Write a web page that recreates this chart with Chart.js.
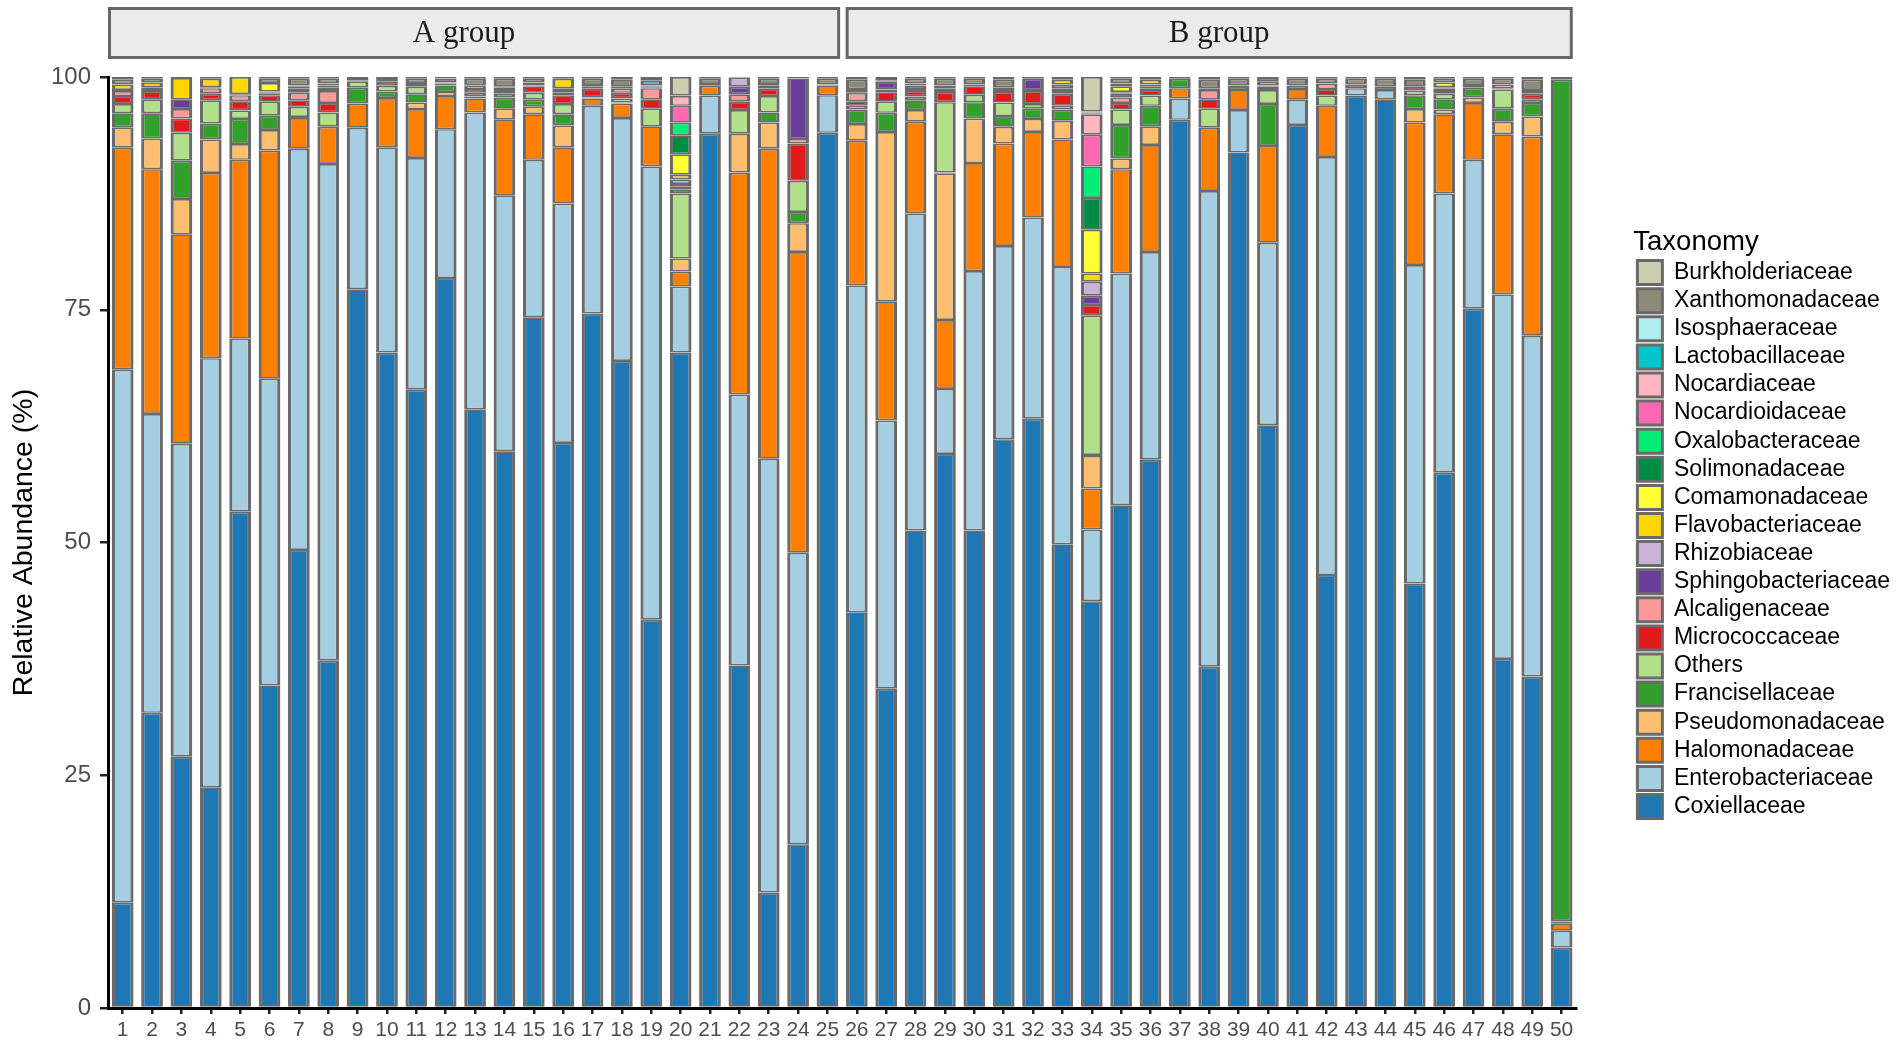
<!DOCTYPE html>
<html>
<head>
<meta charset="utf-8">
<script src="https://cdn.jsdelivr.net/npm/chart.js@4.4.1/dist/chart.umd.min.js"></script>
<style>
  html, body { margin: 0; padding: 0; background: #ffffff; }
  #wrap { width: 1902px; height: 1050px; position: relative; }
</style>
</head>
<body>
<div id="wrap"><canvas id="c"></canvas></div>
<script>
// ---------------- DATA ----------------
const sampleLabels = ['1','2','3','4','5','6','7','8','9','10','11','12','13','14','15','16','17','18','19','20','21','22','23','24','25',
                      '26','27','28','29','30','31','32','33','34','35','36','37','38','39','40','41','42','43','44','45','46','47','48','49','50'];
const groupNames = ['A group', 'B group'];
const groupSizes = [25, 25];
const yTicks = [0, 25, 50, 75, 100];

// taxa, bottom of the stack first
const taxa = ['Coxiellaceae','Enterobacteriaceae','Halomonadaceae','Pseudomonadaceae','Francisellaceae','Others',
  'Micrococcaceae','Alcaligenaceae','Sphingobacteriaceae','Rhizobiaceae','Flavobacteriaceae','Comamonadaceae',
  'Solimonadaceae','Oxalobacteraceae','Nocardioidaceae','Nocardiaceae','Lactobacillaceae','Isosphaeraceae',
  'Xanthomonadaceae','Burkholderiaceae'];

const coxiellaceae = [11.3,31.7,27.0,23.7,53.3,34.65,49.2,37.3,77.2,70.4, 66.4,78.4,64.3,59.8,74.2,60.7,74.6,69.5,41.7,70.4,
  93.9,36.8,12.4,17.6,94.0,42.5,34.3,51.3,59.5,51.3, 61.1,63.3,49.8,43.7,54.0,58.9,95.4,36.65,91.9,62.6, 94.85,46.5,98.0,97.6,45.6,57.5,75.1,37.5,35.6,6.5];
const enterobacteriaceae = [57.3,32.1,33.6,46.1,18.6,32.95,43.1,53.35,17.35,22.05, 24.9,16.0,31.9,27.5,16.9,25.7,22.3,26.1,48.7,7.1,
  4.1,29.1,46.6,31.3,4.05,35.1,28.8,34.05,7.0,27.85, 20.75,21.6,29.8,7.7,24.9,22.3,2.3,51.1,4.55,19.6, 2.7,44.9,0.8,1.0,34.2,30.0,16.0,39.15,36.6,1.8];
const halomonadaceae = [23.8,26.3,22.5,19.9,19.2,24.5,3.3,4.0,2.6,5.3, 5.25,3.55,1.5,8.15,4.9,6.05,0.8,1.55,4.3,1.6,
  1.05,23.85,33.3,32.3,1.05,15.55,12.8,9.85,7.4,11.6, 11.0,9.2,13.7,4.4,11.2,11.5,1.1,6.8,2.15,10.4, 1.15,5.5,0.4,0,15.3,8.5,6.1,17.2,21.4,0.8];
const pseudomonadaceae = [2.2,3.3,3.8,3.6,1.7,2.2,0,0,0,0, 0.7,0.45,0,1.15,0.85,2.35,0,0,0,1.4,
  0,4.15,2.8,3.1,0,1.8,18.2,1.25,15.75,4.8, 1.8,1.4,2.0,3.5,1.15,2.0,0,0,0,0, 0,0,0,0,1.45,0.5,0.6,1.35,2.15,0.2];
const francisellaceae = [1.5,2.7,4.1,1.7,2.7,1.55,0.1,0,1.7,0.7, 0.9,0.7,0.2,1.2,0.7,1.2,0,0.1,0,0,
  0.1,0,1.1,1.2,0.1,1.55,2.05,1.05,0.1,1.75, 1.15,1.1,1.2,0.1,3.6,2.2,1.0,0,0.5,4.5, 0.4,0,0,0.4,1.5,1.1,1.05,1.4,1.45,90.4];
const others = [1.0,1.5,3.0,2.5,0.9,1.5,1.1,1.55,0.65,0.6, 0.8,0.2,0.4,0.4,0.75,1.1,0.1,0.45,1.9,7.0,
  0.1,2.55,1.75,3.35,0,0.4,1.2,0.4,7.55,0.8, 1.45,0.5,0.4,15.0,1.65,1.1,0,2.05,0,1.5, 0,1.1,0,0,0.5,0.6,0.3,2.05,0.4,0];
const micrococcaceae = [0.85,0.9,1.55,0.7,1.0,0.7,0.7,1.0,0.1,0.4, 0.2,0.1,0.4,0.3,0.7,0.95,0.95,0.6,1.0,0.4,
  0,0.9,0.8,4.0,0,0.5,1.0,0.6,1.1,0.9, 1.15,1.4,1.3,1.1,0.7,0.6,0,1.0,0,0.1, 0,0.7,0,0,0.4,0.2,0,0.1,0.6,0];
const alcaligenaceae = [0.55,0.2,1.0,0.6,0.65,0.2,0.8,1.3,0,0.1, 0.1,0,0.4,0.2,0.1,0.3,0.2,0.45,1.2,0.3,
  0,0.8,0.3,0.5,0,0.9,0.3,0.2,0.3,0.2, 0.3,0.1,0.3,0,0.6,0.2,0,1.0,0,0.3, 0,0.6,0,0,0,0.2,0,0.45,0.2,0];
const sphingobacteriaceae = [0.1,0.2,1.05,0.1,0.1,0.1,0.2,0.2,0,0, 0.1,0,0,0.2,0.3,0.35,0.2,0.2,0.1,0.3,
  0,0.8,0.2,6.5,0,0.2,0.85,0.4,0.1,0, 0.2,1.2,0.3,1.0,0.4,0.2,0,0.2,0,0.1, 0,0,0,0,0,0.2,0,0,0.2,0];
const rhizobiaceae = [0,0,0,0,0,0,0.2,0.2,0,0, 0,0,0,0,0,0.1,0,0,0.1,0.5,
  0,1.0,0,0,0,0.2,0.1,0.2,0.3,0, 0,0,0.4,1.5,0.1,0.2,0,0,0,0.4, 0,0,0,0,0,0,0,0,0,0];
const flavobacteriaceae = [0.6,0.5,2.3,0.9,1.85,0.1,0.1,0.2,0,0, 0,0,0,0.1,0,1.0,0,0,0,0.5,
  0,0,0,0,0,0,0,0,0,0, 0,0,0.5,0.9,0.1,0.5,0,0,0,0, 0,0,0,0,0,0.1,0,0,0,0];
const comamonadaceae = [0,0,0,0,0,0.9,0,0,0,0, 0,0,0,0,0,0,0,0,0,2.2,
  0,0,0,0,0,0,0,0,0,0, 0,0,0,4.7,0.6,0,0,0,0,0, 0,0,0,0,0,0.5,0,0,0,0];
const solimonadaceae = [0,0,0,0,0,0,0,0,0,0, 0,0,0,0,0,0,0,0,0,2.05,
  0,0,0,0,0,0,0,0,0,0, 0,0,0,3.4,0.3,0,0,0,0,0, 0,0,0,0,0,0,0,0,0,0];
const oxalobacteraceae = [0,0,0,0,0,0,0,0,0,0, 0,0,0,0,0,0,0,0,0,1.35,
  0,0,0,0,0,0,0,0,0,0, 0,0,0,3.4,0,0,0,0,0,0, 0,0,0,0,0,0,0,0,0,0];
const nocardioidaceae = [0,0,0,0,0,0,0,0,0,0, 0,0,0,0,0,0,0,0,0,1.8,
  0,0,0,0,0,0,0,0,0,0, 0,0,0,3.4,0,0,0,0,0,0, 0,0,0,0,0,0,0,0,0,0];
const nocardiaceae = [0,0,0,0,0,0,0.2,0.2,0,0, 0,0,0,0,0,0,0,0,0.1,1.05,
  0,0,0,0,0,0,0,0,0,0, 0,0,0,2.2,0,0,0,0,0,0, 0,0,0,0,0,0,0,0,0,0];
const lactobacillaceae = [0,0,0,0,0,0,0.1,0,0,0, 0,0,0,0,0,0,0,0,0.5,0,
  0,0,0,0,0,0,0,0,0,0, 0,0,0,0.1,0,0,0,0,0,0, 0,0,0,0,0,0,0,0,0,0];
const isosphaeraceae = [0,0,0,0,0,0,0,0,0,0, 0,0,0,0,0,0,0,0,0,0,
  0,0,0,0,0,0,0,0,0,0, 0,0,0,0.1,0,0,0,0,0,0, 0,0,0,0,0,0,0,0,0,0];
const xanthomonadaceae = [0.5,0.4,0.1,0.2,0,0.45,0.7,0.5,0.3,0.35, 0.45,0.45,0.7,0.8,0.4,0.2,0.65,0.8,0.3,0.05,
  0.55,0.05,0.55,0.15,0.6,1.0,0.3,0.5,0.7,0.6, 0.8,0.2,0.3,0.1,0.5,0.3,0.2,0.9,0.7,0.4, 0.7,0.5,0.6,0.8,0.8,0.4,0.65,0.6,1.1,0.3];
const burkholderiaceae = [0.3,0.2,0,0,0,0.2,0.2,0.2,0.1,0.1, 0.2,0.15,0.2,0.2,0.2,0,0.2,0.25,0.1,2.0,
  0.2,0,0.2,0,0.2,0.3,0.1,0.2,0.2,0.2, 0.3,0,0,3.7,0.2,0,0,0.3,0.2,0.1, 0.2,0.2,0.2,0.2,0.25,0.2,0.2,0.2,0.3,0];

const seriesValues = [coxiellaceae, enterobacteriaceae, halomonadaceae, pseudomonadaceae, francisellaceae, others,
  micrococcaceae, alcaligenaceae, sphingobacteriaceae, rhizobiaceae, flavobacteriaceae, comamonadaceae,
  solimonadaceae, oxalobacteraceae, nocardioidaceae, nocardiaceae, lactobacillaceae, isosphaeraceae,
  xanthomonadaceae, burkholderiaceae];

// ---------------- STYLE ----------------
const taxaColors = ['#1f78b4','#a6cee3','#ff7f00','#fdbf6f','#33a02c','#b2df8a',
  '#e31a1c','#fb9a99','#6a3d9a','#cab2d6','#ffd700','#ffff33',
  '#008b45','#00ee76','#ff69b4','#ffb6c1','#00c5cd','#aeeeee',
  '#8b8b78','#cdcdb1'];
const edgeColor = '#6a6a6a';
const sansFont = "'Liberation Sans', Arial, Helvetica, sans-serif";
const serifFont = "'Liberation Serif', 'Times New Roman', serif";

Chart.defaults.font.family = sansFont;

const datasets = taxa.map((name, i) => ({
  label: name,
  data: seriesValues[i].map(v => (v > 0 ? v : null)),
  backgroundColor: taxaColors[i],
  borderColor: edgeColor,
  borderWidth: { top: 1.7, bottom: 1.7, left: 3.2, right: 3.2 },
  borderSkipped: false,
  barPercentage: 0.74,
  categoryPercentage: 1.0
}));

const stripPlugin = {
  id: 'facetStrips',
  afterDraw(chart) {
    const { ctx, chartArea } = chart;
    const xs = chart.scales.x;
    const cw = (chartArea.right - chartArea.left) / sampleLabels.length;
    let start = 0;
    groupNames.forEach((g, gi) => {
      const leftEdge = xs.getPixelForValue(start) - cw / 2;
      const rightEdge = xs.getPixelForValue(start + groupSizes[gi] - 1) + cw / 2;
      const x1 = leftEdge + (gi === 0 ? 1.5 : 5);
      const x2 = rightEdge - (gi === 0 ? 3.5 : 5);
      const y1 = 8.5, y2 = 57.5;
      ctx.save();
      ctx.fillStyle = '#ebebeb';
      ctx.fillRect(x1, y1, x2 - x1, y2 - y1);
      ctx.lineWidth = 3;
      ctx.strokeStyle = '#666666';
      ctx.strokeRect(x1, y1, x2 - x1, y2 - y1);
      ctx.fillStyle = '#1a1a1a';
      ctx.font = '31px ' + serifFont;
      ctx.textAlign = 'center';
      ctx.textBaseline = 'alphabetic';
      const tx = (x1 + x2) / 2 + (gi === 0 ? -10 : 10);
      ctx.fillText(g, tx, 42);
      ctx.restore();
      start += groupSizes[gi];
    });
  }
};

new Chart(document.getElementById('c'), {
  type: 'bar',
  data: { labels: sampleLabels, datasets },
  plugins: [stripPlugin],
  options: {
    responsive: true,
    maintainAspectRatio: false,
    animation: false,
    devicePixelRatio: 1,
    layout: { padding: { top: 77, right: 2, bottom: 0, left: 0 } },
    plugins: {
      tooltip: { enabled: false },
      legend: {
        position: 'right',
        align: 'start',
        reverse: true,
        title: {
          display: true,
          text: 'Taxonomy',
          color: '#000000',
          position: 'start',
          font: { size: 27.5, family: sansFont, lineHeight: 1.0 },
          padding: { top: 152, bottom: 0 }
        },
        labels: {
          boxWidth: 25,
          boxHeight: 24,
          padding: 4.1,
          color: '#000000',
          font: { size: 23, family: sansFont },
          generateLabels(chart) {
            const items = Chart.defaults.plugins.legend.labels.generateLabels(chart);
            items.forEach(it => { it.lineWidth = 3; it.strokeStyle = edgeColor; });
            return items;
          }
        }
      }
    },
    scales: {
      x: {
        stacked: true,
        offset: true,
        grid: { display: true, drawOnChartArea: false, drawTicks: true, tickLength: 6,
                tickColor: '#222222', lineWidth: 2.5, offset: false },
        border: { display: true, color: '#000000', width: 3 },
        ticks: { color: '#4d4d4d', font: { size: 21 }, padding: 4, maxRotation: 0, autoSkip: false },
        afterFit(s) { s.height = 42; }
      },
      y: {
        stacked: true,
        min: 0,
        max: 100,
        afterBuildTicks(s) { s.ticks = yTicks.map(v => ({ value: v })); },
        grid: { display: true, drawOnChartArea: false, drawTicks: true, tickLength: 8,
                tickColor: '#222222', lineWidth: 2.5 },
        border: { display: true, color: '#000000', width: 3 },
        ticks: { color: '#4d4d4d', font: { size: 24 }, padding: 9 },
        title: { display: true, text: 'Relative Abundance (%)', color: '#000000',
                 font: { size: 28.5 }, padding: { top: 7, bottom: 0 } },
        afterFit(s) { s.width = 108; }
      },
      gap: {
        type: 'linear',
        position: 'right',
        display: true,
        grid: { display: false },
        border: { display: false },
        ticks: { display: false },
        afterFit(s) { s.width = 57; }
      }
    }
  }
});
</script>
</body>
</html>
